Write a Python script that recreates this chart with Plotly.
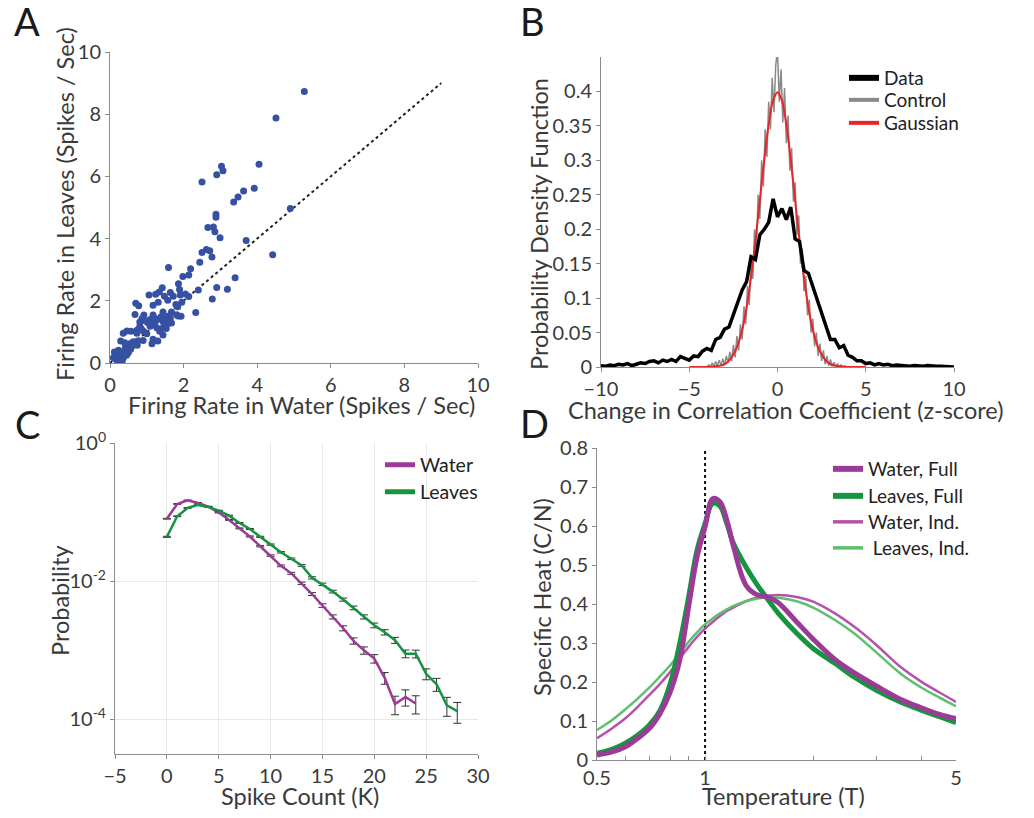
import plotly.graph_objects as go

FONT = "Lato"
TXT = "#3a3a3a"
AXC = "#8c8c8c"
# the page body has an 8 px margin, so the figure is 16 px smaller than the window
PAGE_OFF = 8
W, H = 1034 - 2 * PAGE_OFF, 818 - 2 * PAGE_OFF

# --- A: firing rate scatter ---
water_rate = [5.28, 4.51, 4.05, 3.03, 3.07, 2.90, 2.50, 3.92, 3.63, 3.48, 3.36, 4.90, 2.88, 2.88,
              2.66, 2.81, 2.85, 2.99, 3.70, 2.62, 2.71, 2.50, 2.77, 4.42, 2.44, 1.59, 2.19, 2.14,
              1.98, 3.40, 1.86, 2.90, 3.19, 2.40, 1.42, 1.34, 1.64, 1.89, 1.06, 1.24, 1.48, 1.72,
              2.05, 2.14, 1.91, 2.78, 1.57, 1.31, 1.17, 1.79, 1.95, 1.84, 0.70, 0.78, 2.33, 0.68,
              0.92, 1.17, 1.44, 1.67, 1.81, 1.93, 1.85, 0.87, 1.09, 1.27, 1.38, 1.57, 1.64, 0.81,
              0.96, 1.43, 1.51, 1.67, 1.21, 1.09, 1.27, 1.47, 1.53, 1.40, 0.81, 0.73, 0.91, 0.46,
              0.36, 0.57, 0.73, 1.00, 1.44, 0.75, 0.90, 0.63, 1.17, 1.30, 1.14, 0.29, 0.40, 0.53,
              0.74, 0.42, 0.56, 0.50, 0.23, 0.32, 0.14, 0.20, 0.27, 0.36, 0.09, 0.16, 0.24, 0.29,
              0.20, 1.35, 1.58, 1.02, 0.60, 0.45, 0.33, 0.12, 0.85, 1.20]
leaves_rate = [8.73, 7.88, 6.39, 6.33, 6.18, 6.05, 5.82, 5.62, 5.53, 5.34, 5.18, 4.97, 4.78, 4.69,
               4.36, 4.37, 4.22, 4.03, 3.94, 3.65, 3.61, 3.55, 3.41, 3.48, 3.24, 3.07, 3.03, 2.83,
               2.78, 2.74, 2.55, 2.43, 2.37, 2.35, 2.42, 2.28, 2.27, 2.36, 2.19, 2.21, 2.15, 2.15,
               2.22, 2.14, 2.19, 2.06, 2.02, 1.95, 1.86, 1.88, 1.95, 1.81, 1.92, 1.84, 1.62, 1.56,
               1.54, 1.54, 1.64, 1.64, 1.55, 1.50, 1.51, 1.43, 1.40, 1.40, 1.48, 1.50, 1.45, 1.32,
               1.36, 1.35, 1.40, 1.29, 1.26, 1.18, 1.13, 1.21, 1.11, 1.10, 1.18, 1.05, 1.02, 1.03,
               0.96, 1.02, 0.96, 0.94, 0.90, 0.71, 0.72, 0.68, 0.76, 0.71, 0.62, 0.71, 0.65, 0.62,
               0.57, 0.51, 0.44, 0.34, 0.41, 0.36, 0.25, 0.30, 0.21, 0.16, 0.17, 0.14, 0.11, 0.09,
               0.05, 1.02, 1.27, 1.30, 0.55, 0.25, 0.05, 0.35, 1.10, 1.45]
unity = [0, 9]

# --- B: change in correlation coefficient ---
z_bins = [i * 0.25 - 10 for i in range(81)]
data_pdf = [0.002, 0.001, 0.003, 0.002, 0.004, 0.003, 0.005, 0.002, 0.004, 0.006,
            0.005, 0.008, 0.009, 0.006, 0.010, 0.008, 0.011, 0.008, 0.015, 0.012,
            0.010, 0.016, 0.015, 0.023, 0.027, 0.024, 0.040, 0.043, 0.055, 0.058,
            0.076, 0.092, 0.112, 0.124, 0.160, 0.156, 0.192, 0.200, 0.210, 0.244,
            0.218, 0.230, 0.214, 0.232, 0.186, 0.182, 0.140, 0.136, 0.116, 0.098,
            0.076, 0.057, 0.040, 0.040, 0.028, 0.031, 0.017, 0.014, 0.009, 0.009,
            0.005, 0.006, 0.003, 0.005, 0.003, 0.004, 0.002, 0.003, 0.002, 0.002,
            0.001, 0.002, 0.001, 0.001, 0.002, 0.001, 0.001, 0.001, 0.001, 0.001, 0.000]
ctrl_bins = [i * 0.1 - 4 for i in range(81)]
ctrl_pdf = [0.000, 0.003, 0.000, 0.006, 0.001, 0.008, 0.002, 0.010, 0.002, 0.012,
            0.003, 0.016, 0.006, 0.022, 0.008, 0.032, 0.014, 0.045, 0.024, 0.062,
            0.040, 0.088, 0.062, 0.118, 0.090, 0.160, 0.128, 0.200, 0.168, 0.250,
            0.215, 0.300, 0.262, 0.345, 0.305, 0.385, 0.345, 0.420, 0.370, 0.438,
            0.460, 0.385, 0.432, 0.355, 0.405, 0.325, 0.365, 0.285, 0.318, 0.240,
            0.268, 0.192, 0.220, 0.150, 0.172, 0.110, 0.132, 0.075, 0.098, 0.050,
            0.070, 0.030, 0.050, 0.016, 0.034, 0.009, 0.024, 0.004, 0.016, 0.002,
            0.011, 0.001, 0.007, 0.000, 0.005, 0.000, 0.003, 0.000, 0.002, 0.000, 0.000]
gauss_bins = [-5, -4.5, -4, -3.5, -3.25, -3, -2.75, -2.5, -2.25, -2, -1.75, -1.5, -1.25, -1,
              -0.75, -0.5, -0.25, 0, 0.25, 0.5, 0.75, 1, 1.25, 1.5, 1.75, 2, 2.25, 2.5, 2.75,
              3, 3.25, 3.5, 4, 4.5, 5]
gauss_pdf = [0.000, 0.000, 0.000, 0.001, 0.002, 0.004, 0.009, 0.018, 0.032, 0.054, 0.086,
             0.130, 0.183, 0.242, 0.301, 0.352, 0.387, 0.399, 0.387, 0.352, 0.301, 0.242,
             0.183, 0.130, 0.086, 0.054, 0.032, 0.018, 0.009, 0.004, 0.002, 0.001, 0.000,
             0.000, 0.000]

# --- C: spike count distribution ---
k_water = list(range(25))
p_water = [0.0802, 0.1312, 0.1483, 0.1358, 0.1202, 0.0984, 0.0771, 0.0581, 0.0444, 0.0321,
           0.0235, 0.0167, 0.0130, 0.00935, 0.00653, 0.00445, 0.00305, 0.00209, 0.00137,
           0.00100, 0.00076, 0.00040, 0.000167, 0.000212, 0.000170]
err_water = [0.00109, 0.00139, 0.00148, 0.00141, 0.00133, 0.00120, 0.00106, 0.00092, 0.00081,
             0.00069, 0.00059, 0.00050, 0.00044, 0.00037, 0.00031, 0.00026, 0.00021, 0.000175,
             0.000142, 0.000121, 0.000106, 0.000077, 0.000050, 0.000056, 0.000050]
k_leaves = list(range(29))
p_leaves = [0.0439, 0.0871, 0.1148, 0.1271, 0.1189, 0.1052, 0.0889, 0.0698, 0.0571, 0.0439,
            0.0339, 0.0262, 0.0211, 0.0169, 0.0112, 0.00902, 0.00708, 0.00543, 0.00412,
            0.00305, 0.00230, 0.00183, 0.00140, 0.000895, 0.000891, 0.000457, 0.000324,
            0.000160, 0.000132]
err_leaves = [0.00080, 0.00113, 0.00130, 0.00137, 0.00132, 0.00124, 0.00114, 0.00101, 0.00092,
              0.00080, 0.00071, 0.00062, 0.00056, 0.00050, 0.00041, 0.00036, 0.00032, 0.00028,
              0.00025, 0.00021, 0.00018, 0.00016, 0.00014, 0.000115, 0.000115, 0.000082,
              0.000069, 0.000049, 0.000044]

# --- D: specific heat ---
temps = [0.5, 0.55, 0.6, 0.65, 0.7, 0.75, 0.8, 0.85, 0.9, 0.95, 1.0, 1.05, 1.1, 1.15, 1.2,
         1.3, 1.4, 1.5, 1.6, 1.8, 2.0, 2.3, 2.6, 3.0, 3.5, 4.0, 4.5, 5.0]
c_water_full = [0.013, 0.021, 0.034, 0.056, 0.081, 0.120, 0.175, 0.256, 0.393, 0.521, 0.598,
                0.670, 0.662, 0.615, 0.547, 0.448, 0.423, 0.418, 0.403, 0.354, 0.310, 0.258,
                0.224, 0.190, 0.156, 0.134, 0.117, 0.106]
c_leaves_full = [0.017, 0.027, 0.043, 0.064, 0.090, 0.128, 0.196, 0.299, 0.418, 0.538, 0.606,
                 0.658, 0.651, 0.606, 0.555, 0.495, 0.448, 0.410, 0.376, 0.325, 0.286, 0.248,
                 0.213, 0.179, 0.149, 0.128, 0.111, 0.096]
c_water_ind = [0.056, 0.081, 0.107, 0.137, 0.167, 0.196, 0.226, 0.260, 0.290, 0.316, 0.337,
               0.354, 0.369, 0.382, 0.391, 0.407, 0.417, 0.421, 0.423, 0.418, 0.406, 0.376,
               0.342, 0.295, 0.239, 0.201, 0.173, 0.149]
c_leaves_ind = [0.077, 0.102, 0.130, 0.158, 0.186, 0.215, 0.243, 0.273, 0.303, 0.327, 0.348,
                0.363, 0.376, 0.386, 0.395, 0.407, 0.414, 0.417, 0.416, 0.407, 0.391, 0.359,
                0.325, 0.276, 0.222, 0.186, 0.160, 0.138]
t_crit = [1, 1]
c_span = [0, 0.8]

PURPLE = "#9c3b97"
GREEN = "#16943f"
PURPLE_L = "#b453ad"
GREEN_L = "#5fbf6c"

fig = go.Figure()

# A
fig.add_trace(go.Scatter(x=unity, y=unity, mode="lines", showlegend=False,
                         line=dict(color="#222222", width=2, dash="dot"), xaxis="x", yaxis="y"))
fig.add_trace(go.Scatter(x=water_rate, y=leaves_rate, mode="markers", showlegend=False,
                         marker=dict(color="#3651a3", size=7), xaxis="x", yaxis="y"))

# B
fig.add_trace(go.Scatter(x=ctrl_bins, y=ctrl_pdf, mode="lines", showlegend=False,
                         line=dict(color="#8a8a8a", width=1.5), xaxis="x2", yaxis="y2"))
fig.add_trace(go.Scatter(x=gauss_bins, y=gauss_pdf, mode="lines", showlegend=False,
                         line=dict(color="#e8262a", width=2, shape="spline"), xaxis="x2", yaxis="y2"))
fig.add_trace(go.Scatter(x=z_bins, y=data_pdf, mode="lines", showlegend=False,
                         line=dict(color="#000000", width=3.5), xaxis="x2", yaxis="y2"))

# C
fig.add_trace(go.Scatter(x=k_water, y=p_water, mode="lines", showlegend=False,
                         line=dict(color=PURPLE, width=2.5),
                         error_y=dict(type="data", array=err_water, color="#333333",
                                      thickness=1, width=4),
                         xaxis="x3", yaxis="y3"))
fig.add_trace(go.Scatter(x=k_leaves, y=p_leaves, mode="lines", showlegend=False,
                         line=dict(color=GREEN, width=2.5),
                         error_y=dict(type="data", array=err_leaves, color="#333333",
                                      thickness=1, width=4),
                         xaxis="x3", yaxis="y3"))

# D
fig.add_trace(go.Scatter(x=t_crit, y=c_span, mode="lines", showlegend=False,
                         line=dict(color="#111111", width=2, dash="dot"), xaxis="x4", yaxis="y4"))
for ys, col, wd in [(c_water_ind, PURPLE_L, 2.5), (c_leaves_ind, GREEN_L, 2.5),
                    (c_leaves_full, GREEN, 5), (c_water_full, PURPLE, 5)]:
    fig.add_trace(go.Scatter(x=temps, y=ys, mode="lines", showlegend=False,
                             line=dict(color=col, width=wd, shape="spline"),
                             xaxis="x4", yaxis="y4"))


def px(x):
    # window pixel -> paper fraction
    return (x - PAGE_OFF) / W


def py(y):
    return 1 - (y - PAGE_OFF) / H


# legend entries: one small legend per row so the row spacing follows the reference
legend_rows = [
    ("Data", "#000000", 6, "x2", 844, 78, 19),
    ("Control", "#8a8a8a", 4, "x2", 844, 100, 19),
    ("Gaussian", "#e8262a", 4, "x2", 844, 123, 19),
    ("Water", PURPLE, 5, "x3", 380, 465, 19.5),
    ("Leaves", GREEN, 5, "x3", 380, 492, 19.5),
    ("Water, Full", PURPLE, 6, "x4", 828, 469, 19),
    ("Leaves, Full", GREEN, 6, "x4", 828, 496, 19),
    ("Water, Ind.", PURPLE_L, 3.5, "x4", 828, 522, 19),
    ("\u00a0Leaves, Ind.", GREEN_L, 3.5, "x4", 828, 548, 19),
]
legend_layout = {}
for i, (name, col, wd, xa, lx, ly, fs) in enumerate(legend_rows):
    key = "legend" if i == 0 else f"legend{i + 1}"
    fig.add_trace(go.Scatter(x=[None], y=[None], mode="lines", name=name, legend=key,
                             line=dict(color=col, width=wd), xaxis=xa, yaxis=xa.replace("x", "y")))
    legend_layout[key] = dict(x=px(lx), y=py(ly), xanchor="left", yanchor="middle",
                              bgcolor="rgba(0,0,0,0)", borderwidth=0,
                              font=dict(family=FONT, size=fs, color="#222222"))


def ax(**kw):
    base = dict(showline=True, linecolor=AXC, linewidth=1, ticks="outside", ticklen=4,
                tickcolor=AXC, showgrid=False, zeroline=False, automargin=False,
                tickfont=dict(family=FONT, size=20, color=TXT))
    base.update(kw)
    return base


fig.update_layout(
    width=W, height=H, margin=dict(l=0, r=0, t=0, b=0, autoexpand=False),
    paper_bgcolor="white", plot_bgcolor="white",
    font=dict(family=FONT, color=TXT),
    xaxis=ax(domain=[px(110), px(478)], anchor="y", range=[0, 10], tickvals=[0, 2, 4, 6, 8, 10]),
    yaxis=ax(domain=[py(363), py(52)], anchor="x", range=[0, 10], tickvals=[0, 2, 4, 6, 8, 10]),
    xaxis2=ax(domain=[px(601), px(954)], anchor="y2", range=[-10, 10], tickvals=[-10, -5, 0, 5, 10]),
    yaxis2=ax(domain=[py(367), py(57)], anchor="x2", range=[0, 0.45],
              tickvals=[0, 0.05, 0.1, 0.15, 0.2, 0.25, 0.3, 0.35, 0.4],
              ticktext=["0", "0.05", "0.1", "0.15", "0.2", "0.25", "0.3", "0.35", "0.4"]),
    xaxis3=ax(domain=[px(115), px(478)], anchor="y3", range=[-5, 30], dtick=5,
              showgrid=True, gridcolor="#e8e8e8"),
    yaxis3=ax(domain=[py(754), py(443)], anchor="x3", type="log", range=[-4.5, 0],
              tickvals=[1, 1e-2, 1e-4], showgrid=True, gridcolor="#e8e8e8",
              ticktext=["10<sup>0</sup>", "10<sup>-2</sup>", "10<sup>-4</sup>"]),
    xaxis4=ax(domain=[px(597), px(956)], anchor="y4", type="log", range=[-0.30103, 0.69897],
              ticks="inside", tickvals=[0.5, 1, 5], ticktext=["0.5", "1", "5"],
              minor=dict(tickvals=[0.6, 0.7, 0.8, 0.9, 2, 3, 4], ticks="inside",
                         ticklen=4, tickcolor=AXC)),
    yaxis4=ax(domain=[py(760), py(448)], anchor="x4", range=[0, 0.8],
              tickvals=[0, 0.1, 0.2, 0.3, 0.4, 0.5, 0.6, 0.7, 0.8],
              ticktext=["0", "0.1", "0.2", "0.3", "0.4", "0.5", "0.6", "0.7", "0.8"]),
    **legend_layout,
)

titles = [
    ("Firing Rate in Water (Spikes / Sec)", 301, 405, 0),
    ("Firing Rate in Leaves (Spikes / Sec)", 65, 204, -90),
    ("Change in Correlation Coefficient (z-score)", 785, 410, 0),
    ("Probability Density Function", 539, 224, -90),
    ("Spike Count (K)", 300, 796, 0),
    ("Probability", 60, 601, -90),
    ("Temperature (T)", 783, 796, 0),
    ("Specific Heat (C/N)", 542, 597, -90),
]
for text, x, y, ang in titles:
    fig.add_annotation(text=text, x=px(x), y=py(y), xref="paper", yref="paper",
                       showarrow=False, textangle=ang, xanchor="center", yanchor="middle",
                       font=dict(family=FONT, size=23.5, color=TXT))

for letter, x, y in [("A", 27, 21), ("B", 532, 21), ("C", 27, 424), ("D", 534, 423)]:
    fig.add_annotation(text=letter, x=px(x), y=py(y), xref="paper", yref="paper",
                       showarrow=False, xanchor="center", yanchor="middle",
                       font=dict(family=FONT, size=38, color="#1a1a1a"))

fig.write_html("out.html")
